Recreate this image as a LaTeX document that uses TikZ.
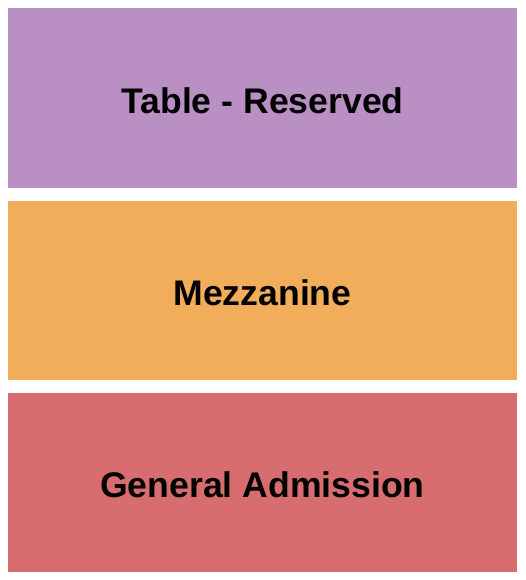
\documentclass[tikz,border=0pt]{standalone}
\usepackage{fontspec}
\setmainfont{Liberation Sans}
\usepackage{xcolor}
\definecolor{tablepurple}{HTML}{BA8FC3}
\definecolor{mezzorange}{HTML}{F2AD5B}
\definecolor{gared}{HTML}{D76D6E}

\begin{document}
\begin{tikzpicture}[x=1pt,y=-1pt,
  section/.style={anchor=north west, inner sep=0pt, minimum width=\secwidth pt, minimum height=\secheight pt},
  seclabel/.style={anchor=base, inner sep=0pt, font=\fontsize{35.6}{40}\selectfont\bfseries}]
% Define common parameters
\def\secwidth{509}
\def\secheight{179.5}
\def\textdrop{15.5}

\useasboundingbox (0,0) rectangle (525,580);

% Section 1: Table - Reserved
\begin{scope}[shift={(8,8)}]
  \node[section, fill=tablepurple] (table) at (0,0) {};
  \node[seclabel] (tabletext) at (0.5*\secwidth,0.5*\secheight+\textdrop) {Table - Reserved};
\end{scope}

% Section 2: Mezzanine
\begin{scope}[shift={(8,200.5)}]
  \node[section, fill=mezzorange] (mezz) at (0,0) {};
  \node[seclabel] (mezztext) at (0.5*\secwidth,0.5*\secheight+\textdrop) {Mezzanine};
\end{scope}

% Section 3: General Admission
\begin{scope}[shift={(8,392.5)}]
  \node[section, fill=gared] (general) at (0,0) {};
  \node[seclabel] (generaltext) at (0.5*\secwidth,0.5*\secheight+\textdrop) {General Admission};
\end{scope}

\end{tikzpicture}
\end{document}
